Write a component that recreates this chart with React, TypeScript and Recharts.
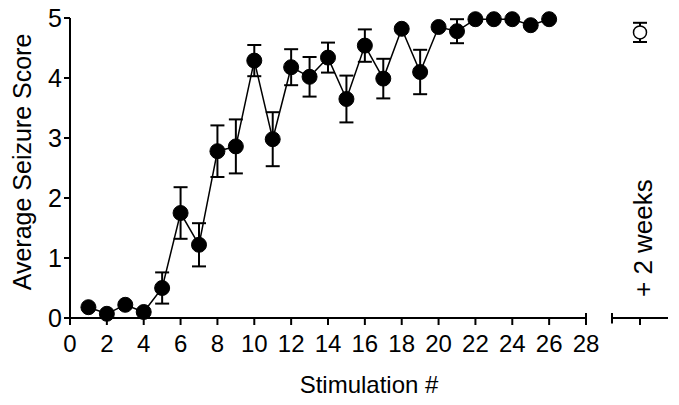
import {
  LineChart,
  Line,
  XAxis,
  YAxis,
  ErrorBar,
  Label,
  ReferenceLine,
} from "recharts";

const FONT = "'Liberation Sans', Arial, sans-serif";

// stimulation number (x) and mean seizure score with SEM
const stimulation = [
  1, 2, 3, 4, 5, 6, 7, 8, 9, 10, 11, 12, 13, 14, 15, 16, 17, 18, 19, 20, 21, 22,
  23, 24, 25, 26,
];
const scores = [
  0.18, 0.07, 0.22, 0.1, 0.5, 1.75, 1.22, 2.78, 2.86, 4.29, 2.98, 4.18, 4.02,
  4.34, 3.65, 4.54, 3.99, 4.82, 4.1, 4.85, 4.78, 4.98, 4.98, 4.98, 4.88, 4.98,
];
const sem = [
  0, 0, 0, 0, 0.26, 0.43, 0.36, 0.43, 0.45, 0.26, 0.45, 0.3, 0.33, 0.25, 0.39,
  0.27, 0.33, 0, 0.37, 0, 0.2, 0, 0, 0, 0, 0,
];

// follow-up point two weeks later
const laterScore = [4.76];
const laterSem = [0.16];
const laterLabel = ["+ 2 weeks"];

const xTicks = [0, 2, 4, 6, 8, 10, 12, 14, 16, 18, 20, 22, 24, 26, 28];
const yTicks = [0, 1, 2, 3, 4, 5];

const mainData = stimulation.map((s, i) => ({ x: s, score: scores[i], sem: sem[i] }));
const laterData = laterScore.map((v, i) => ({ x: 1, score: v, sem: laterSem[i], name: laterLabel[i] }));

function LaterTick(props: any) {
  const { x, y } = props;
  return (
    <text
      x={x + 12}
      y={y - 30}
      transform={`rotate(-90, ${x + 12}, ${y - 30})`}
      fontSize={26}
      fontFamily={FONT}
      fill="#000"
      textAnchor="start"
    >
      {laterLabel[0]}
    </text>
  );
}

export default function App() {
  return (
    <div
      style={{
        position: "absolute",
        left: 0,
        top: 0,
        width: 679,
        height: 405,
        background: "#fff",
        fontFamily: FONT,
      }}
    >
      <div style={{ position: "absolute", left: 0, top: 0 }}>
        <LineChart
          width={600}
          height={405}
          data={mainData}
          margin={{ top: 18, right: 14, left: 0, bottom: 0 }}
        >
          <XAxis
            dataKey="x"
            type="number"
            domain={[0, 28]}
            ticks={xTicks}
            interval={0}
            height={87}
            tickSize={7}
            tickMargin={10}
            axisLine={{ stroke: "#000", strokeWidth: 2 }}
            tickLine={{ stroke: "#000", strokeWidth: 2 }}
            tick={{ fill: "#000", fontSize: 24, fontFamily: FONT }}
          >
            <Label
              value="Stimulation #"
              position="insideBottom"
              offset={12}
              dx={41}
              fill="#000"
              fontSize={24}
              fontFamily={FONT}
            />
          </XAxis>
          <YAxis
            type="number"
            domain={[0, 5]}
            ticks={yTicks}
            interval={0}
            width={70}
            tickSize={6}
            axisLine={{ stroke: "#000", strokeWidth: 2 }}
            tickLine={{ stroke: "#000", strokeWidth: 2 }}
            tick={{ fill: "#000", fontSize: 25, fontFamily: FONT }}
          >
            <Label
              value="Average Seizure Score"
              angle={-90}
              position="center"
              dx={-13}
              dy={-6}
              fill="#000"
              fontSize={25}
              fontFamily={FONT}
            />
          </YAxis>
          <ReferenceLine
            segment={[
              { x: 28, y: 0 },
              { x: 28, y: 0.085 },
            ]}
            stroke="#000"
            strokeWidth={2}
            ifOverflow="visible"
          />
          <Line
            dataKey="score"
            stroke="#000"
            strokeWidth={1.5}
            dot={{ r: 7.5, fill: "#000", stroke: "#000", strokeWidth: 1 }}
            activeDot={false}
            isAnimationActive={false}
          >
            <ErrorBar dataKey="sem" width={7} stroke="#000" strokeWidth={2} />
          </Line>
        </LineChart>
      </div>
      <div style={{ position: "absolute", left: 600, top: 0 }}>
        <LineChart
          width={79}
          height={405}
          data={laterData}
          margin={{ top: 18, right: 11, left: 12, bottom: 0 }}
        >
          <XAxis
            dataKey="x"
            type="number"
            domain={[0, 2]}
            ticks={[1]}
            height={87}
            tickSize={7}
            axisLine={{ stroke: "#000", strokeWidth: 2 }}
            tickLine={{ stroke: "#000", strokeWidth: 2 }}
            tick={<LaterTick />}
          />
          <YAxis type="number" domain={[0, 5]} hide />
          <ReferenceLine
            segment={[
              { x: 0, y: -0.09 },
              { x: 0, y: 0.085 },
            ]}
            stroke="#000"
            strokeWidth={2}
            ifOverflow="visible"
          />
          <Line
            dataKey="score"
            stroke="#000"
            strokeWidth={1.5}
            dot={{ r: 6.5, fill: "#fff", stroke: "#000", strokeWidth: 1.5 }}
            activeDot={false}
            isAnimationActive={false}
          >
            <ErrorBar dataKey="sem" width={7} stroke="#000" strokeWidth={2} />
          </Line>
        </LineChart>
      </div>
    </div>
  );
}
